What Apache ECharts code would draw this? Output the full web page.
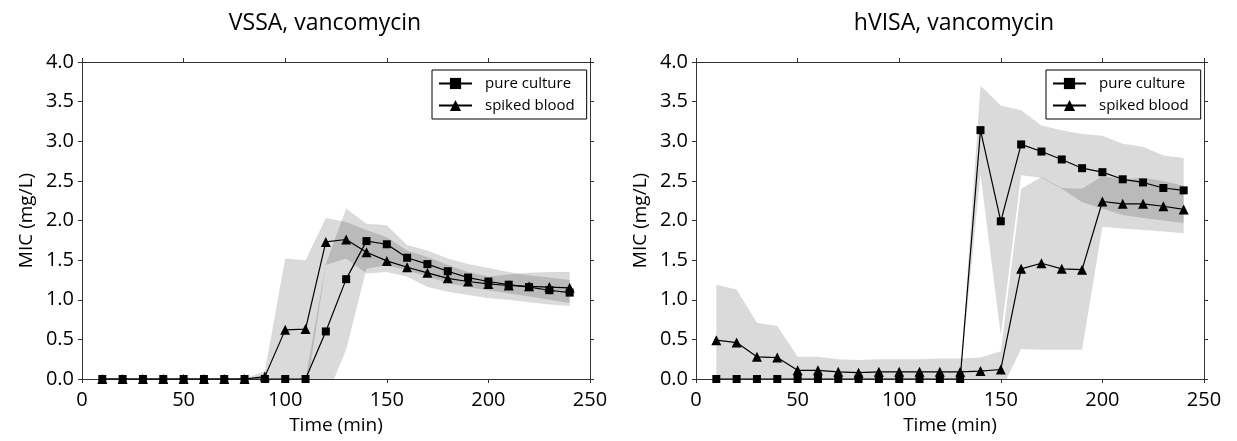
<!DOCTYPE html>
<html><head><meta charset="utf-8">
<script src="https://cdn.jsdelivr.net/npm/echarts@6/dist/echarts.min.js"></script>
<style>html,body{margin:0;padding:0;background:#fff}#c{width:1237px;height:441px}</style>
</head><body><div id="c"></div>
<script>
const times = [10,20,30,40,50,60,70,80,90,100,110,120,130,140,150,160,170,180,190,200,210,220,230,240];
const xTicks = [0,50,100,150,200,250];
const titles = ['VSSA, vancomycin','hVISA, vancomycin'];
const seriesNames = ['pure culture','spiked blood'];

// VSSA
const vssaPure  = [0,0,0,0,0,0,0,0,0,0,0,0.60,1.26,1.74,1.70,1.53,1.45,1.36,1.28,1.23,1.19,1.16,1.12,1.09];
const vssaBlood = [0,0,0,0,0,0,0,0,0.03,0.62,0.63,1.73,1.76,1.60,1.49,1.41,1.34,1.27,1.23,1.20,1.18,1.17,1.16,1.15];
const vssaPureLow  = [0,0,0,0,0,0,0,0,0,0,0,-0.25,0.37,1.39,1.44,1.37,1.29,1.21,1.16,1.12,1.08,1.04,1.00,0.96];
const vssaPureHigh = [0,0,0,0,0,0,0,0,0,0,0,1.45,2.15,1.96,1.94,1.69,1.62,1.52,1.45,1.40,1.35,1.31,1.28,1.25];
const vssaBloodLow  = [0,0,0,0,0,0,0,0,-0.04,-0.28,-0.24,1.44,1.52,1.33,1.35,1.29,1.16,1.10,1.06,1.02,1.00,0.97,0.94,0.92];
const vssaBloodHigh = [0,0,0,0,0,0,0,0,0.10,1.52,1.50,2.03,1.98,1.88,1.79,1.62,1.54,1.44,1.35,1.29,1.32,1.34,1.35,1.35];

// hVISA
const hvisaPure  = [0,0,0,0,0,0,0,0,0,0,0,0,0,3.14,1.99,2.96,2.87,2.77,2.66,2.61,2.52,2.48,2.41,2.38];
const hvisaBlood = [0.49,0.46,0.28,0.27,0.11,0.11,0.09,0.08,0.09,0.09,0.09,0.09,0.09,0.10,0.12,1.39,1.46,1.39,1.38,2.24,2.21,2.21,2.18,2.14];
const hvisaPureLow  = [0,0,0,0,0,0,0,0,0,0,0,0,0,2.58,0.55,2.57,2.54,2.40,2.23,2.15,2.07,2.03,2.00,1.97];
const hvisaPureHigh = [0,0,0,0,0,0,0,0,0,0,0,0,0,3.70,3.45,3.39,3.20,3.14,3.09,3.07,2.97,2.93,2.82,2.79];
const hvisaBloodLow  = [-0.21,-0.21,-0.15,-0.13,-0.06,-0.06,-0.07,-0.08,-0.07,-0.07,-0.07,-0.07,-0.07,-0.07,-0.15,0.38,0.37,0.37,0.37,1.92,1.90,1.88,1.86,1.84];
const hvisaBloodHigh = [1.19,1.13,0.71,0.67,0.28,0.28,0.25,0.24,0.25,0.25,0.25,0.26,0.26,0.27,0.35,2.40,2.55,2.41,2.40,2.56,2.52,2.54,2.50,2.44];

const FONT = 'Open Sans';
const pairs = arr => times.map((t, i) => [t, arr[i]]);

function band(idx, lo, hi) {
  return {
    type: 'custom', xAxisIndex: idx*2, yAxisIndex: idx*2, silent: true, z: 1, clip: true, animation: false,
    data: times.map((t, i) => [t, lo[i], hi[i]]),
    renderItem: function (params, api) {
      if (params.dataIndex !== 0) return null;
      const pts = [];
      for (let i = 0; i < times.length; i++) pts.push(api.coord([times[i], hi[i]]));
      for (let i = times.length - 1; i >= 0; i--) pts.push(api.coord([times[i], lo[i]]));
      const cs = params.coordSys;
      return {
        type: 'polygon', shape: { points: pts },
        style: { fill: 'rgba(0,0,0,0.145)', stroke: null },
        clipPath: { type: 'rect', shape: { x: cs.x, y: cs.y, width: cs.width, height: cs.height } }
      };
    }
  };
}
function mainLine(idx, name, arr, sym, size) {
  return { type: 'line', name: name, xAxisIndex: idx*2, yAxisIndex: idx*2, data: pairs(arr),
    symbol: sym, symbolSize: size, showAllSymbol: true,
    lineStyle: { color: '#000', width: 1.2 }, itemStyle: { color: '#000' },
    z: 5, animation: false, clip: true };
}

const grids = [
  { left: 82, right: 1237 - 590, top: 62, bottom: 62 },
  { left: 696, right: 1237 - 1204, top: 62, bottom: 62 }
];
const axisLineStyle = { color: '#333', width: 1 };
const xAxes = [], yAxes = [];
grids.forEach((g, i) => {
  xAxes.push({ type: 'value', gridIndex: i, min: xTicks[0], max: xTicks[xTicks.length-1], interval: 50, position: 'bottom',
    name: 'Time (min)', nameLocation: 'middle', nameGap: 37, nameMoveOverlap: false,
    nameTextStyle: { fontFamily: FONT, fontSize: 19, color: '#000' },
    axisLine: { show: true, lineStyle: axisLineStyle, onZero: false },
    axisTick: { show: true, inside: false, length: 4, lineStyle: axisLineStyle },
    axisLabel: { fontFamily: FONT, fontSize: 20, color: '#000', margin: 11 },
    splitLine: { show: false } });
  xAxes.push({ type: 'value', gridIndex: i, min: 0, max: 250, interval: 50, position: 'top',
    axisLine: { show: true, lineStyle: axisLineStyle, onZero: false },
    axisTick: { show: true, inside: false, length: 4, lineStyle: axisLineStyle },
    axisLabel: { show: false }, splitLine: { show: false } });
  yAxes.push({ type: 'value', gridIndex: i, min: 0, max: 4, interval: 0.5, position: 'left',
    name: 'MIC (mg/L)', nameLocation: 'middle', nameGap: 46, nameRotate: 90, nameMoveOverlap: false,
    nameTextStyle: { fontFamily: FONT, fontSize: 19, color: '#000' },
    axisLine: { show: true, lineStyle: axisLineStyle, onZero: false },
    axisTick: { show: true, inside: false, length: 4, lineStyle: axisLineStyle },
    axisLabel: { fontFamily: FONT, fontSize: 20, color: '#000', margin: 8, formatter: v => v.toFixed(1) },
    splitLine: { show: false } });
  yAxes.push({ type: 'value', gridIndex: i, min: 0, max: 4, interval: 0.5, position: 'right',
    axisLine: { show: true, lineStyle: axisLineStyle, onZero: false },
    axisTick: { show: true, inside: false, length: 4, lineStyle: axisLineStyle },
    axisLabel: { show: false }, splitLine: { show: false } });
});

const legendBase = {
  orient: 'vertical', top: 70, data: seriesNames,
  borderColor: '#000', borderWidth: 1, borderRadius: 0, padding: [6, 12, 6, 6],
  itemWidth: 33, itemHeight: 14, itemGap: 7,
  textStyle: { fontFamily: FONT, fontSize: 15, color: '#000', lineHeight: 14, padding: [0, 0, 0, 8] },
  selectedMode: false
};

const series = [
  band(0, vssaPureLow, vssaPureHigh),
  band(0, vssaBloodLow, vssaBloodHigh),
  band(1, hvisaPureLow, hvisaPureHigh),
  band(1, hvisaBloodLow, hvisaBloodHigh),
  mainLine(0, seriesNames[0], vssaPure, 'rect', 8),
  mainLine(0, seriesNames[1], vssaBlood, 'triangle', 10),
  mainLine(1, seriesNames[0], hvisaPure, 'rect', 8),
  mainLine(1, seriesNames[1], hvisaBlood, 'triangle', 10)
];

const chart = echarts.init(document.getElementById('c'), null, { renderer: 'canvas' });
chart.setOption({
  animation: false,
  backgroundColor: '#fff',
  title: [
    { text: titles[0], left: 320, top: 7, textAlign: 'center', textStyle: { fontFamily: FONT, fontSize: 23, fontWeight: 'normal', color: '#000' } },
    { text: titles[1], left: 949, top: 7, textAlign: 'center', textStyle: { fontFamily: FONT, fontSize: 23, fontWeight: 'normal', color: '#000' } }
  ],
  legend: [ Object.assign({ left: 432 }, legendBase), Object.assign({ left: 1046 }, legendBase) ],
  grid: grids,
  xAxis: xAxes,
  yAxis: yAxes,
  series: series
});
</script></body></html>
